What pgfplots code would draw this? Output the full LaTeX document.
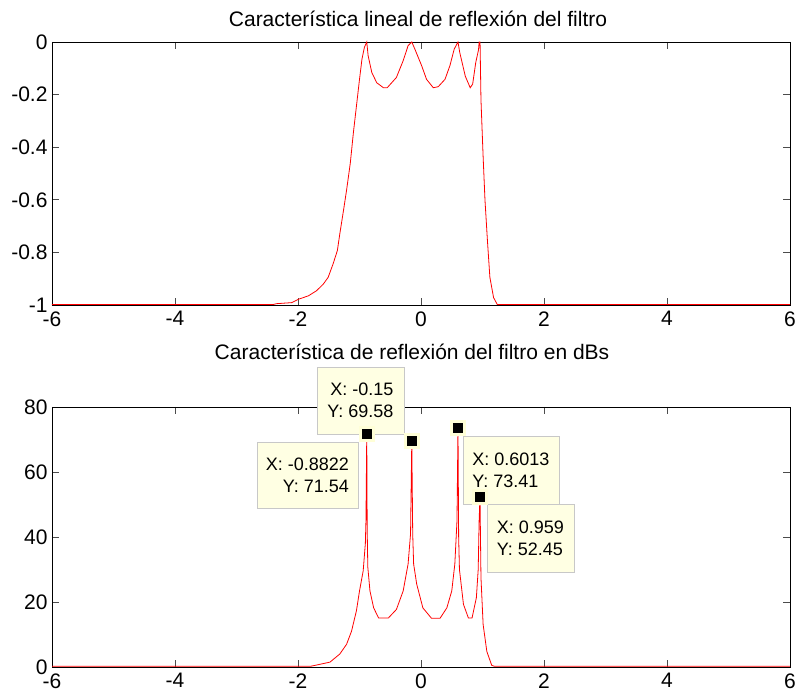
\documentclass[border=0pt]{standalone}
\usepackage{pgfplots}
\pgfplotsset{compat=1.18}
\usepackage{fontspec}
\setmainfont{Liberation Sans}
\definecolor{tipbg}{RGB}{255,255,215}
\definecolor{tipedge}{RGB}{200,200,200}

\pgfplotsset{
  mat/.style={
    scale only axis,
    width=738pt,
    xmin=-6, xmax=6,
    xtick={-6,-4,-2,0,2,4,6},
    xticklabels={-6,-4,-2,0,2,4,6},
    tick align=inside,
    major tick length=7pt,
    axis line style={line width=0.8pt},
    tick style={line width=0.6pt, black!70},
    tick label style={font=\fontsize{21}{24}\selectfont},
    xticklabel style={yshift=-3pt},
    yticklabel style={xshift=-1pt},
    clip=false,
  },
}
\tikzset{
  tip/.style={draw=tipedge, fill=tipbg!70!white, line width=0.8pt,
    font=\fontsize{18}{22}\selectfont, inner sep=0pt},
}

\begin{document}
\begin{tikzpicture}[x=1pt,y=1pt]
\useasboundingbox (0,0) rectangle (799,700);

% lineal
\begin{axis}[mat, at={(52pt,395pt)}, anchor=south west, height=263pt,
  ymin=-1, ymax=0,
  ytick={-1,-0.8,-0.6,-0.4,-0.2,0},
  yticklabels={-1,-0.8,-0.6,-0.4,-0.2,0}]
\addplot[red, line width=0.8pt] coordinates {
(-6,-0.998) (-2.4,-0.998) (-2.35,-0.995) (-2.1,-0.991) (-1.99,-0.978)
(-1.83,-0.965) (-1.70,-0.946) (-1.59,-0.921) (-1.51,-0.895) (-1.43,-0.844)
(-1.36,-0.793) (-1.32,-0.729) (-1.26,-0.640) (-1.21,-0.563) (-1.15,-0.461)
(-1.10,-0.346) (-1.05,-0.244) (-1.00,-0.142) (-0.96,-0.065) (-0.92,-0.02)
(-0.8822,0) (-0.86,-0.052) (-0.80,-0.116) (-0.72,-0.155) (-0.61,-0.174)
(-0.55,-0.174) (-0.40,-0.135) (-0.29,-0.071) (-0.21,-0.014) (-0.15,0)
(-0.10,-0.027) (0.01,-0.09) (0.09,-0.142) (0.20,-0.174) (0.28,-0.170)
(0.39,-0.142) (0.47,-0.09) (0.54,-0.027) (0.6013,0) (0.63,-0.04)
(0.72,-0.13) (0.80,-0.174) (0.84,-0.16) (0.89,-0.078) (0.935,-0.03)
(0.945,0) (0.96,0) (0.975,-0.22) (1.01,-0.436) (1.04,-0.60) (1.08,-0.755)
(1.12,-0.895) (1.18,-0.972) (1.24,-0.998) (6,-0.998)
};
\end{axis}

% dB
\begin{axis}[mat, at={(52pt,33pt)}, anchor=south west, height=260pt,
  ymin=0, ymax=80,
  ytick={0,20,40,60,80},
  yticklabels={0,20,40,60,80}]
\addplot[red, line width=0.8pt] coordinates {
(-6,0.2) (-1.8,0.2) (-1.70,0.6) (-1.48,1.5) (-1.32,4) (-1.21,7) (-1.13,11)
(-1.05,17.3) (-1.00,23.4) (-0.94,29.6) (-0.905,38) (-0.895,45)
(-0.8822,71.54) (-0.875,42) (-0.865,30.7) (-0.83,23.4) (-0.77,18.2)
(-0.69,15.1) (-0.53,15.1) (-0.40,17.7) (-0.29,23.4) (-0.21,31.7)
(-0.17,41) (-0.15,69.58) (-0.135,41) (-0.12,31.7) (-0.07,25.5) (0.03,18.2)
(0.17,15) (0.31,15) (0.42,18.2) (0.50,23.4) (0.55,31.7) (0.585,45)
(0.6013,73.41) (0.612,40) (0.625,30) (0.69,19.3) (0.77,15.1) (0.83,15.1)
(0.90,21.3) (0.93,30) (0.945,45) (0.959,52.45) (0.975,27.5) (1.01,13.1)
(1.07,4.8) (1.15,0.5) (1.2,0.2) (6,0.2)
};
\node[tip, minimum width=87pt, minimum height=67pt, align=right] at (axis cs:-0.984,82.0) {X: -0.15\\Y: 69.58};
\node[tip, minimum width=101pt, minimum height=66pt, align=right] at (axis cs:-1.846,59.1) {X: -0.8822\\Y: 71.54};
\node[tip, minimum width=96pt, minimum height=68pt, align=left] at (axis cs:1.463,60.6) {X: 0.6013\\Y: 73.41};
\addplot[only marks, mark=square*, mark size=6.5pt,
  mark options={fill=black, draw=tipbg, line width=3pt}] coordinates {
(-0.8822,71.54) (-0.15,69.58) (0.6013,73.41) (0.959,52.45)};
\node[tip, minimum width=87pt, minimum height=68pt, align=left] at (axis cs:1.780,39.7) {X: 0.959\\Y: 52.45};
\end{axis}

\node[anchor=base, font=\fontsize{21}{24}\selectfont] at (418,673) {Característica lineal de reflexión del filtro};
\node[anchor=base, font=\fontsize{21}{24}\selectfont] at (412,340) {Característica de reflexión del filtro en dBs};
\end{tikzpicture}
\end{document}
